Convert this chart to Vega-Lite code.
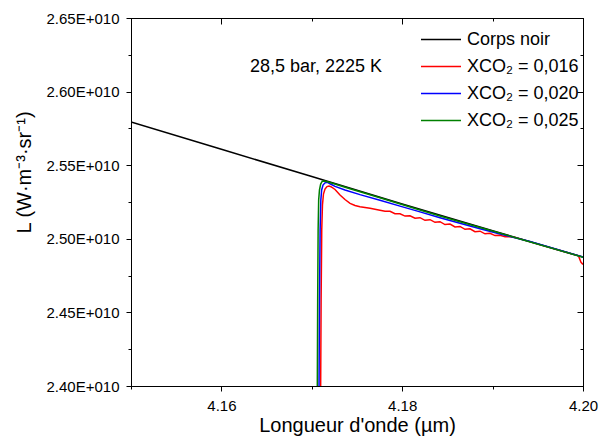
{
  "$schema": "https://vega.github.io/schema/vega-lite/v6.json",
  "width": 452,
  "height": 368,
  "autosize": "none",
  "padding": {"left": 131, "top": 18, "right": 23, "bottom": 60},
  "background": "white",
  "config": {
    "font": "Liberation Sans",
    "view": {"stroke": "black", "strokeWidth": 1},
    "axis": {"grid": false, "domainColor": "black", "tickColor": "black", "labelColor": "black", "titleColor": "black", "titleFontWeight": "normal", "labelFlush": false, "labelOverlap": false, "domainWidth": 1, "tickWidth": 1}
  },
  "data": {"values": [
    {"series": "Corps noir", "x": 4.15, "L": 2.5793e10},
    {"series": "Corps noir", "x": 4.16, "L": 2.5608e10},
    {"series": "Corps noir", "x": 4.17, "L": 2.5423e10},
    {"series": "Corps noir", "x": 4.18, "L": 2.5236e10},
    {"series": "Corps noir", "x": 4.19, "L": 2.5055e10},
    {"series": "Corps noir", "x": 4.20, "L": 2.4876e10},

    {"series": "XCO₂ = 0,016", "x": 4.17097, "L": 2.38e10},
    {"series": "XCO₂ = 0,016", "x": 4.17098, "L": 2.4000e10},
    {"series": "XCO₂ = 0,016", "x": 4.17103, "L": 2.4584e10},
    {"series": "XCO₂ = 0,016", "x": 4.17110, "L": 2.5060e10},
    {"series": "XCO₂ = 0,016", "x": 4.17118, "L": 2.5230e10},
    {"series": "XCO₂ = 0,016", "x": 4.17129, "L": 2.5304e10},
    {"series": "XCO₂ = 0,016", "x": 4.17146, "L": 2.5338e10},
    {"series": "XCO₂ = 0,016", "x": 4.17168, "L": 2.5355e10},
    {"series": "XCO₂ = 0,016", "x": 4.17190, "L": 2.5359e10},
    {"series": "XCO₂ = 0,016", "x": 4.17212, "L": 2.5354e10},
    {"series": "XCO₂ = 0,016", "x": 4.17257, "L": 2.5335e10},
    {"series": "XCO₂ = 0,016", "x": 4.17312, "L": 2.5298e10},
    {"series": "XCO₂ = 0,016", "x": 4.17367, "L": 2.5267e10},
    {"series": "XCO₂ = 0,016", "x": 4.17423, "L": 2.5241e10},
    {"series": "XCO₂ = 0,016", "x": 4.17478, "L": 2.5226e10},
    {"series": "XCO₂ = 0,016", "x": 4.17533, "L": 2.5218e10},
    {"series": "XCO₂ = 0,016", "x": 4.17644, "L": 2.5207e10},
    {"series": "XCO₂ = 0,016", "x": 4.17754, "L": 2.5194e10},
    {"series": "XCO₂ = 0,016", "x": 4.17810, "L": 2.51878e10},
    {"series": "XCO₂ = 0,016", "x": 4.17865, "L": 2.51868e10},
    {"series": "XCO₂ = 0,016", "x": 4.17920, "L": 2.51702e10},
    {"series": "XCO₂ = 0,016", "x": 4.17976, "L": 2.51698e10},
    {"series": "XCO₂ = 0,016", "x": 4.18031, "L": 2.51542e10},
    {"series": "XCO₂ = 0,016", "x": 4.18086, "L": 2.51562e10},
    {"series": "XCO₂ = 0,016", "x": 4.18142, "L": 2.51399e10},
    {"series": "XCO₂ = 0,016", "x": 4.18197, "L": 2.51433e10},
    {"series": "XCO₂ = 0,016", "x": 4.18252, "L": 2.51257e10},
    {"series": "XCO₂ = 0,016", "x": 4.18308, "L": 2.51297e10},
    {"series": "XCO₂ = 0,016", "x": 4.18363, "L": 2.51121e10},
    {"series": "XCO₂ = 0,016", "x": 4.18418, "L": 2.51162e10},
    {"series": "XCO₂ = 0,016", "x": 4.18473, "L": 2.50968e10},
    {"series": "XCO₂ = 0,016", "x": 4.18529, "L": 2.51005e10},
    {"series": "XCO₂ = 0,016", "x": 4.18584, "L": 2.50805e10},
    {"series": "XCO₂ = 0,016", "x": 4.18639, "L": 2.50842e10},
    {"series": "XCO₂ = 0,016", "x": 4.18695, "L": 2.50642e10},
    {"series": "XCO₂ = 0,016", "x": 4.18750, "L": 2.50679e10},
    {"series": "XCO₂ = 0,016", "x": 4.18805, "L": 2.50479e10},
    {"series": "XCO₂ = 0,016", "x": 4.18861, "L": 2.50516e10},
    {"series": "XCO₂ = 0,016", "x": 4.18916, "L": 2.50340e10},
    {"series": "XCO₂ = 0,016", "x": 4.18971, "L": 2.50380e10},
    {"series": "XCO₂ = 0,016", "x": 4.19027, "L": 2.50217e10},
    {"series": "XCO₂ = 0,016", "x": 4.19082, "L": 2.50238e10},
    {"series": "XCO₂ = 0,016", "x": 4.19137, "L": 2.50143e10},
    {"series": "XCO₂ = 0,016", "x": 4.19193, "L": 2.50136e10},
    {"series": "XCO₂ = 0,016", "x": 4.19248, "L": 2.50095e10},
    {"series": "XCO₂ = 0,016", "x": 4.19500, "L": 2.4964e10},
    {"series": "XCO₂ = 0,016", "x": 4.19950, "L": 2.4884e10},
    {"series": "XCO₂ = 0,016", "x": 4.19978, "L": 2.4840e10},
    {"series": "XCO₂ = 0,016", "x": 4.20000, "L": 2.4826e10},

    {"series": "XCO₂ = 0,020", "x": 4.17079, "L": 2.38e10},
    {"series": "XCO₂ = 0,020", "x": 4.17080, "L": 2.4000e10},
    {"series": "XCO₂ = 0,020", "x": 4.17085, "L": 2.4584e10},
    {"series": "XCO₂ = 0,020", "x": 4.17092, "L": 2.5060e10},
    {"series": "XCO₂ = 0,020", "x": 4.17100, "L": 2.5264e10},
    {"series": "XCO₂ = 0,020", "x": 4.17109, "L": 2.5332e10},
    {"series": "XCO₂ = 0,020", "x": 4.17124, "L": 2.5365e10},
    {"series": "XCO₂ = 0,020", "x": 4.17146, "L": 2.5380e10},
    {"series": "XCO₂ = 0,020", "x": 4.17174, "L": 2.5384e10},
    {"series": "XCO₂ = 0,020", "x": 4.17201, "L": 2.5374e10},
    {"series": "XCO₂ = 0,020", "x": 4.17257, "L": 2.5356e10},
    {"series": "XCO₂ = 0,020", "x": 4.17367, "L": 2.5331e10},
    {"series": "XCO₂ = 0,020", "x": 4.17533, "L": 2.5300e10},
    {"series": "XCO₂ = 0,020", "x": 4.17754, "L": 2.5262e10},
    {"series": "XCO₂ = 0,020", "x": 4.17976, "L": 2.5222e10},
    {"series": "XCO₂ = 0,020", "x": 4.18197, "L": 2.5183e10},
    {"series": "XCO₂ = 0,020", "x": 4.18418, "L": 2.5143e10},
    {"series": "XCO₂ = 0,020", "x": 4.18639, "L": 2.5105e10},
    {"series": "XCO₂ = 0,020", "x": 4.18861, "L": 2.5068e10},
    {"series": "XCO₂ = 0,020", "x": 4.19082, "L": 2.5032e10},
    {"series": "XCO₂ = 0,020", "x": 4.19248, "L": 2.5007e10},
    {"series": "XCO₂ = 0,020", "x": 4.19414, "L": 2.4981e10},
    {"series": "XCO₂ = 0,020", "x": 4.20000, "L": 2.4876e10},

    {"series": "XCO₂ = 0,025", "x": 4.17060, "L": 2.38e10},
    {"series": "XCO₂ = 0,025", "x": 4.17061, "L": 2.4000e10},
    {"series": "XCO₂ = 0,025", "x": 4.17065, "L": 2.4584e10},
    {"series": "XCO₂ = 0,025", "x": 4.17070, "L": 2.5060e10},
    {"series": "XCO₂ = 0,025", "x": 4.17076, "L": 2.5264e10},
    {"series": "XCO₂ = 0,025", "x": 4.17085, "L": 2.5332e10},
    {"series": "XCO₂ = 0,025", "x": 4.17098, "L": 2.5372e10},
    {"series": "XCO₂ = 0,025", "x": 4.17116, "L": 2.5391e10},
    {"series": "XCO₂ = 0,025", "x": 4.17140, "L": 2.5393e10},
    {"series": "XCO₂ = 0,025", "x": 4.17201, "L": 2.5382e10},
    {"series": "XCO₂ = 0,025", "x": 4.17423, "L": 2.5340e10},
    {"series": "XCO₂ = 0,025", "x": 4.17754, "L": 2.5279e10},
    {"series": "XCO₂ = 0,025", "x": 4.18197, "L": 2.5196e10},
    {"series": "XCO₂ = 0,025", "x": 4.18418, "L": 2.5155e10},
    {"series": "XCO₂ = 0,025", "x": 4.18861, "L": 2.5077e10},
    {"series": "XCO₂ = 0,025", "x": 4.19303, "L": 2.4999e10},
    {"series": "XCO₂ = 0,025", "x": 4.20000, "L": 2.4875e10}
  ]},
  "layer": [
    {
      "mark": {"type": "line", "clip": true, "strokeWidth": 1.5},
      "encoding": {
        "x": {"field": "x", "type": "quantitative",
          "scale": {"domain": [4.15, 4.2], "nice": false, "zero": false},
          "axis": {"orient": "bottom", "values": [4.15, 4.16, 4.17, 4.18, 4.19, 4.2],
            "labelExpr": "round(datum.value*100)%2==0 ? format(datum.value,'.2f') : ''",
            "tickSize": {"condition": {"test": "round(datum.value*100)%2==0", "value": 5}, "value": 3},
            "labelFontSize": 15, "labelPadding": 7,
            "title": "Longueur d'onde (µm)", "titleFontSize": 20, "titleBaseline": "top", "titleY": 29}},
        "y": {"field": "L", "type": "quantitative",
          "scale": {"domain": [2.4e10, 2.65e10], "nice": false, "zero": false},
          "axis": {"orient": "left", "values": [2.4e10, 2.425e10, 2.45e10, 2.475e10, 2.5e10, 2.525e10, 2.55e10, 2.575e10, 2.6e10, 2.625e10, 2.65e10],
            "labelExpr": "round(datum.value/2.5e8)%2==0 ? format(datum.value/1e10,'.2f')+'E+010' : ''",
            "tickSize": {"condition": {"test": "round(datum.value/2.5e8)%2==0", "value": 5}, "value": 3},
            "labelFontSize": 15, "labelPadding": 7,
            "title": "L (W·m⁻³·sr⁻¹)", "titleFontSize": 20, "titleAngle": -90, "titleAlign": "center", "titleBaseline": "bottom", "titleX": -97, "titleY": 154}},
        "color": {"field": "series", "type": "nominal",
          "scale": {"domain": ["Corps noir", "XCO₂ = 0,016", "XCO₂ = 0,020", "XCO₂ = 0,025"], "range": ["#000000", "#ff0000", "#0000ff", "#008000"]},
          "legend": {"title": null, "orient": "none", "legendX": 299, "legendY": 10.5, "padding": 0,
            "symbolType": "M-2,0H2", "symbolSize": 400, "symbolStrokeWidth": 1.5,
            "labelOffset": 15, "labelFontSize": 18, "labelColor": "black", "rowPadding": 7, "labelLimit": 200}}
      }
    },
    {
      "data": {"values": [{"label": "28,5 bar, 2225 K"}]},
      "mark": {"type": "text", "align": "left", "baseline": "alphabetic", "fontSize": 18, "color": "black"},
      "encoding": {
        "x": {"datum": 4.16316, "type": "quantitative", "axis": null},
        "y": {"datum": 2.6133e10, "type": "quantitative", "axis": null},
        "text": {"field": "label", "type": "nominal"}
      }
    },
    {
      "mark": {"type": "point", "opacity": 0, "clip": true},
      "encoding": {
        "x": {"field": "x", "type": "quantitative",
          "scale": {"domain": [4.15, 4.2], "nice": false, "zero": false},
          "axis": {"orient": "top", "values": [4.15, 4.16, 4.17, 4.18, 4.19, 4.2], "labels": false, "title": null,
            "tickSize": {"condition": {"test": "round(datum.value*100)%2==0", "value": -6}, "value": -3}}},
        "y": {"field": "L", "type": "quantitative",
          "scale": {"domain": [2.4e10, 2.65e10], "nice": false, "zero": false},
          "axis": {"orient": "right", "values": [2.4e10, 2.425e10, 2.45e10, 2.475e10, 2.5e10, 2.525e10, 2.55e10, 2.575e10, 2.6e10, 2.625e10, 2.65e10], "labels": false, "title": null,
            "tickSize": {"condition": {"test": "round(datum.value/2.5e8)%2==0", "value": -6}, "value": -3}}}
      }
    }
  ],
  "resolve": {"axis": {"x": "independent", "y": "independent"}}
}
